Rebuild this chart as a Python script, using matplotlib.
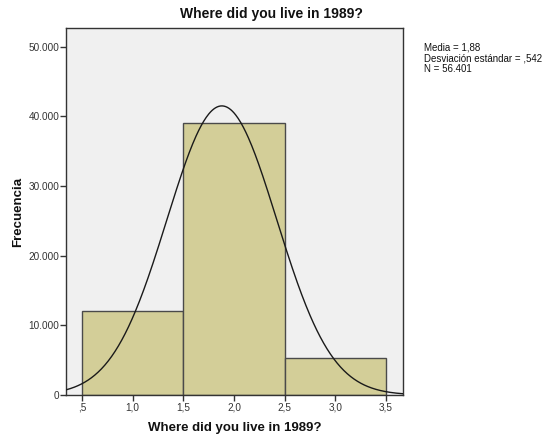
import numpy as np
import matplotlib
matplotlib.use("Agg")
import matplotlib.pyplot as plt
from matplotlib.ticker import FuncFormatter

plt.rcParams['font.family'] = ['Liberation Sans', 'DejaVu Sans']

# Histogram of responses (bin centres 1, 2, 3; width 1)
bin_edges = [0.5, 1.5, 2.5, 3.5]
counts = [12074, 39021, 5306]
mean_val = 1.88
std_val = 0.542
n_total = 56401

x_ticks = [0.5, 1.0, 1.5, 2.0, 2.5, 3.0, 3.5]
y_ticks = [0, 10000, 20000, 30000, 40000, 50000]

fig = plt.figure(figsize=(5.43, 4.38), dpi=100)
ax = fig.add_axes([66/543, 43/438, 337/543, 367/438])
ax.set_facecolor('#F0F0F0')

widths = np.diff(bin_edges)
ax.bar(bin_edges[:-1], counts, width=widths, align='edge',
       color='#D3CE98', edgecolor='#4A4A4A', linewidth=1.0, zorder=2)

# Normal curve scaled to counts
xmin, xmax = 0.342, 3.668
xs = np.linspace(xmin, xmax, 400)
bw = widths[0]
ys = n_total * bw / (std_val * np.sqrt(2 * np.pi)) * np.exp(-0.5 * ((xs - mean_val) / std_val) ** 2)
ax.plot(xs, ys, color='#1A1A1A', linewidth=1.0, zorder=3)

ax.set_xlim(xmin, xmax)
ax.set_ylim(0, 52700)

def fmt_x(v, pos):
    s = f"{v:.1f}".replace('.', ',')
    if s.startswith('0'):
        s = s[1:]
    return s

def fmt_y(v, pos):
    return f"{int(v):,}".replace(',', '.')

ax.set_xticks(x_ticks)
ax.set_yticks(y_ticks)
ax.xaxis.set_major_formatter(FuncFormatter(fmt_x))
ax.yaxis.set_major_formatter(FuncFormatter(fmt_y))
ax.tick_params(axis='both', labelsize=7.2, colors='#333333', width=1.0,
               direction='out')
ax.tick_params(axis='y', length=4, pad=0.8)
ax.tick_params(axis='x', length=4, pad=1.5)

for s in ax.spines.values():
    s.set_color('#333333')
    s.set_linewidth(1.0)

fig.text(0.5, 1 - 14/438, 'Where did you live in 1989?', ha='center', va='center',
         fontsize=10, fontweight='bold', color='#111111')
ax.set_xlabel('Where did you live in 1989?', fontsize=9.5, fontweight='bold',
              color='#111111', labelpad=7)
ax.set_ylabel('Frecuencia', fontsize=9.5, fontweight='bold', color='#111111',
              labelpad=3)

stats = (f"Media = {mean_val:.2f}".replace('.', ',') + "\n"
         + "Desviación estándar = ,542\n"
         + f"N = {n_total:,}".replace(',', '.'))
fig.text(424/543, 1 - 43/438, stats, ha='left', va='top', fontsize=7,
         color='#111111', linespacing=1.05)

fig.savefig('out.png', dpi=100)
